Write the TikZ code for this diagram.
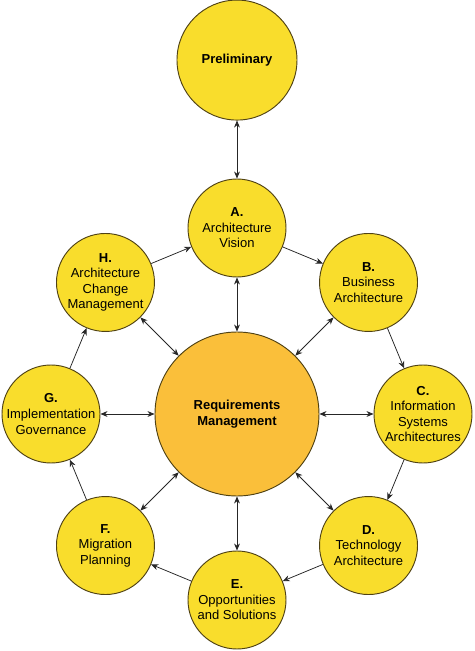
\documentclass[tikz,border=0pt]{standalone}
\usepackage{fontspec}
\setmainfont{Liberation Sans}
\usetikzlibrary{arrows.meta,positioning}

\definecolor{phaseyellow}{RGB}{249,221,44}
\definecolor{reqorange}{RGB}{250,191,58}
\definecolor{rimcolor}{RGB}{80,66,20}

\begin{document}
\begin{tikzpicture}[
    phase/.style={circle, draw=rimcolor, fill=phaseyellow, line width=0.8pt, minimum size=2.94cm, inner sep=0pt, align=center, font=\fontsize{11.1}{13.3}\selectfont},
    core/.style={phase, fill=reqorange, minimum size=4.92cm},
    arrow/.style={->, >={Stealth[length=6pt,width=5pt]}, line width=0.65pt, draw=black!85},
    both/.style={arrow, <->}
]
\useasboundingbox (-7.11,-7.11) rectangle (7.11,12.42);

% Requirements Management in the middle
\node[core] (req) at (0,0) {\textbf{Requirements}\\\textbf{Management}};

% Phases round the ring
\node[phase] (a) at (90:5.58) {\textbf{A.}\\Architecture\\Vision};
\node[phase] (b) at (45:5.58) {\textbf{B.}\\Business\\Architecture};
\node[phase] (c) at (0:5.58) {\textbf{C.}\\Information\\Systems\\Architectures};
\node[phase] (d) at (-45:5.58) {\textbf{D.}\\Technology\\Architecture};
\node[phase] (e) at (-90:5.58) {\textbf{E.}\\Opportunities\\and Solutions};
\node[phase] (f) at (-135:5.58) {\textbf{F.}\\Migration\\Planning};
\node[phase] (g) at (180:5.58) {\textbf{G.}\\Implementation\\Governance};
\node[phase] (h) at (135:5.58) {\textbf{H.}\\Architecture\\Change\\Management};

% Preliminary on top
\node[phase, minimum size=3.6cm, above=1.74cm of a] (pre) {\textbf{Preliminary}};

% Arrows
\draw[both] (pre) -- (a);
\draw[arrow] (a) -- (b);
\draw[arrow] (b) -- (c);
\draw[arrow] (c) -- (d);
\draw[arrow] (d) -- (e);
\draw[arrow] (e) -- (f);
\draw[arrow] (f) -- (g);
\draw[arrow] (g) -- (h);
\draw[arrow] (h) -- (a);

% Links to requirements
\draw[both] (req) -- (a);
\draw[both] (req) -- (b);
\draw[both] (req) -- (c);
\draw[both] (req) -- (d);
\draw[both] (req) -- (e);
\draw[both] (req) -- (f);
\draw[both] (req) -- (g);
\draw[both] (req) -- (h);

\end{tikzpicture}
\end{document}
